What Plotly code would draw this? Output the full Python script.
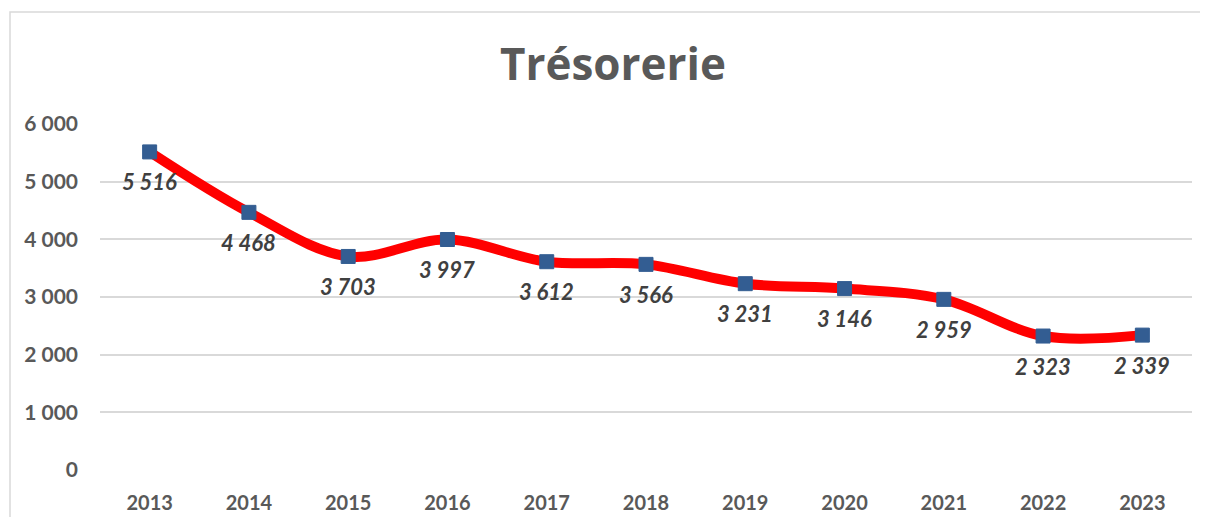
import plotly.graph_objects as go

years = ["2013", "2014", "2015", "2016", "2017", "2018", "2019", "2020", "2021", "2022", "2023"]
tresorerie = [5516, 4468, 3703, 3997, 3612, 3566, 3231, 3146, 2959, 2323, 2339]
y_ticks = [0, 1000, 2000, 3000, 4000, 5000, 6000]

# page offset of the plot div (body margin)
OFF = 8
W, H = 1208 - 2 * OFF, 525 - 2 * OFF
L, R, T, B = 100 - OFF, W + OFF - 1192, 124 - OFF, H + OFF - 470


def fmt(v):
    return f"{v:,}".replace(",", " ")


fig = go.Figure()
fig.add_trace(go.Scatter(
    x=years, y=tresorerie,
    mode="lines+markers",
    line=dict(color="#FF0000", width=10, shape="spline", smoothing=1.0),
    marker=dict(symbol="square", size=14, color="#335D92",
                line=dict(color="#335D92", width=1)),
    hoverinfo="skip",
    showlegend=False,
))

for i, v in enumerate(tresorerie):
    fig.add_annotation(
        x=i, y=v, xref="x", yref="y", text=fmt(v), showarrow=False, yshift=-30,
        font=dict(family="Lato", size=22, color="#404040", weight="bold",
                  style="italic"),
    )

pw = W - L - R
ph = H - T - B
fig.add_shape(
    type="rect", xref="paper", yref="paper",
    x0=(10 - OFF - L) / pw, x1=(W + 40 - L) / pw,
    y0=-(B + 40) / ph, y1=(H - (12 - OFF) - B) / ph,
    line=dict(color="#D9D9D9", width=1.5), layer="below",
)

fig.update_layout(
    width=W, height=H,
    margin=dict(l=L, r=R, t=T, b=B, autoexpand=False),
    paper_bgcolor="white", plot_bgcolor="white",
    separators=", ",
    title=dict(
        text="Trésorerie", x=(613 - OFF) / W, xref="container", xanchor="center",
        y=1 - (65 - OFF) / H, yref="container", yanchor="middle",
        automargin=False,
        font=dict(family="Open Sans", size=44, color="#595959", weight="bold"),
    ),
    xaxis=dict(
        type="category", range=[-0.5, 10.5], automargin=False,
        showgrid=False, zeroline=False, showline=False,
        ticks="", ticklabelstandoff=19,
        tickfont=dict(family="Lato", size=20, color="#595959", weight="bold"),
    ),
    yaxis=dict(
        range=[0, 6000], tickvals=y_ticks, automargin=False,
        ticktext=[fmt(v) for v in y_ticks],
        showgrid=True, gridcolor="#D9D9D9", gridwidth=1.5,
        zeroline=False, showline=False, ticks="",
        ticklabelstandoff=21,
        tickfont=dict(family="Lato", size=21, color="#595959", weight="bold"),
    ),
)

fig.write_html("out.html")
